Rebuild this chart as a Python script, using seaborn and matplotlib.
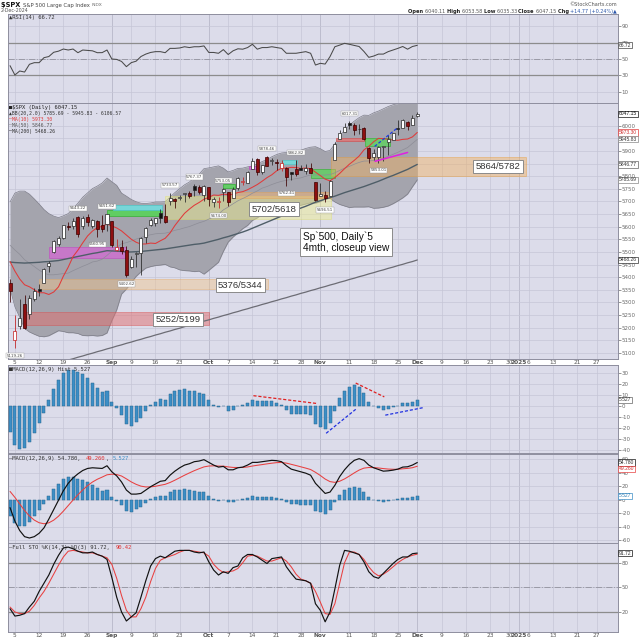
import numpy as np
import pandas as pd
import matplotlib
matplotlib.use("Agg")
import matplotlib.pyplot as plt
import seaborn as sns

sns.set_theme(style="white")
plt.rcParams["font.family"] = ["DejaVu Sans"]
plt.rcParams["axes.unicode_minus"] = False

# ---------------- data ----------------
holidays = ["2024-09-02", "2024-11-28", "2024-12-25", "2025-01-01", "2025-01-20"]
trading_days = pd.bdate_range("2024-08-02", "2025-01-31")
trading_days = trading_days[~trading_days.isin(pd.to_datetime(holidays))]

label_dates = ["2024-08-05", "2024-08-12", "2024-08-19", "2024-08-26", "2024-09-03", "2024-09-09",
               "2024-09-16", "2024-09-23", "2024-10-01", "2024-10-07", "2024-10-14", "2024-10-21",
               "2024-10-28", "2024-11-01", "2024-11-11", "2024-11-18", "2024-11-25", "2024-12-02",
               "2024-12-09", "2024-12-16", "2024-12-23", "2024-12-30", "2025-01-02", "2025-01-06",
               "2025-01-13", "2025-01-21", "2025-01-27"]
label_texts = ["5", "12", "19", "26", "Sep", "9", "16", "23", "Oct", "7", "14", "21", "28", "Nov",
               "11", "18", "25", "Dec", "9", "16", "23", "30", "2025", "6", "13", "21", "27"]
month_texts = ["Sep", "Oct", "Nov", "Dec", "2025"]

prior_close = 5446.68
opens = [5376.6, 5151.1, 5206.4, 5293.1, 5252.6, 5314.3, 5351.9, 5376.0, 5442.8, 5501.1,
         5530.5, 5557.2, 5602.9, 5603.1, 5637.8, 5602.0, 5639.7, 5602.9, 5624.5, 5607.3,
         5612.7, 5623.9, 5506.7, 5520.1, 5507.3, 5442.1, 5490.5, 5496.4, 5557.5, 5605.2,
         5615.2, 5655.5, 5641.7, 5702.6, 5709.0, 5711.9, 5727.6, 5733.6, 5762.2, 5755.4,
         5726.5, 5757.7, 5698.9, 5698.2, 5737.4, 5737.8, 5714.6, 5751.8, 5778.4, 5775.1,
         5829.8, 5866.7, 5816.6, 5875.6, 5859.4, 5857.8, 5832.7, 5834.5, 5816.6, 5826.8,
         5833.9, 5819.7, 5832.7, 5775.3, 5723.2, 5725.2, 5722.4, 5864.9, 5947.4, 5976.8,
         6008.9, 6003.6, 5985.8, 5989.6, 5912.8, 5874.2, 5874.2, 5917.0, 5934.3, 5944.4,
         5992.3, 5992.3, 6014.1, 6003.98, 6040.11]
highs = [5394.7, 5250.9, 5312.3, 5330.6, 5328.0, 5358.3, 5371.2, 5436.5, 5463.2, 5546.2,
         5561.9, 5608.3, 5620.5, 5632.7, 5643.2, 5641.8, 5651.6, 5631.2, 5627.0, 5646.9,
         5651.4, 5623.9, 5552.9, 5546.3, 5522.5, 5484.2, 5497.9, 5560.4, 5600.7, 5636.3,
         5636.1, 5670.8, 5689.8, 5733.6, 5715.1, 5725.4, 5735.3, 5741.0, 5767.4, 5764.8,
         5765.1, 5757.7, 5719.1, 5718.8, 5753.0, 5739.3, 5757.6, 5796.8, 5795.0, 5822.1,
         5871.4, 5870.4, 5846.4, 5878.5, 5872.2, 5866.9, 5863.0, 5834.9, 5817.4, 5862.8,
         5842.9, 5847.1, 5850.9, 5775.3, 5772.0, 5741.4, 5783.4, 5936.1, 5983.8, 6012.5,
         6017.3, 6009.9, 6008.2, 5993.9, 5915.3, 5909.4, 5920.9, 5920.7, 5963.8, 5972.9,
         6020.8, 6025.4, 6020.2, 6044.2, 6053.58]
lows = [5302.6, 5119.3, 5193.6, 5195.5, 5233.9, 5306.4, 5324.4, 5376.0, 5419.6, 5497.6,
        5525.2, 5550.7, 5585.5, 5591.6, 5560.9, 5590.7, 5602.3, 5593.5, 5561.0, 5577.5,
        5581.3, 5521.1, 5503.7, 5490.3, 5402.6, 5434.5, 5441.7, 5407.0, 5535.5, 5601.6,
        5604.5, 5614.1, 5615.1, 5686.4, 5674.5, 5704.2, 5698.0, 5715.2, 5721.0, 5730.1,
        5703.5, 5681.3, 5678.4, 5674.0, 5702.4, 5683.8, 5714.6, 5745.0, 5764.8, 5775.1,
        5829.8, 5804.5, 5808.3, 5840.3, 5846.1, 5824.8, 5820.0, 5762.4, 5784.9, 5799.0,
        5823.1, 5807.6, 5811.3, 5703.6, 5723.2, 5696.5, 5722.1, 5864.9, 5947.4, 5976.8,
        5986.7, 5963.9, 5965.4, 5942.3, 5853.6, 5865.6, 5853.0, 5860.5, 5884.4, 5944.4,
        5963.9, 5992.3, 5984.9, 6003.98, 6035.33]
closes = [5346.56, 5186.33, 5240.03, 5199.50, 5319.31, 5344.16, 5344.39, 5434.43, 5455.21, 5543.22,
          5554.25, 5608.25, 5597.12, 5620.85, 5570.64, 5634.61, 5616.84, 5625.80, 5592.18, 5591.96,
          5648.40, 5528.93, 5520.07, 5503.41, 5408.42, 5471.05, 5495.52, 5554.13, 5595.76, 5626.02,
          5633.09, 5634.58, 5618.26, 5713.64, 5702.55, 5718.57, 5732.93, 5722.26, 5745.37, 5738.17,
          5762.48, 5708.75, 5709.54, 5699.94, 5751.07, 5695.94, 5751.13, 5792.04, 5780.05, 5815.03,
          5859.85, 5815.26, 5842.47, 5841.47, 5864.67, 5853.98, 5851.20, 5797.42, 5809.86, 5808.12,
          5823.52, 5832.92, 5813.67, 5705.45, 5728.80, 5712.69, 5782.76, 5929.04, 5973.10, 5995.54,
          6001.35, 5983.99, 5985.38, 5949.17, 5870.62, 5893.62, 5916.98, 5917.11, 5948.71, 5969.34,
          5987.37, 6021.63, 5998.74, 6032.38, 6047.15]

bb_upper = [5698, 5733, 5741, 5741, 5729, 5710, 5690, 5668, 5652, 5642,
            5636, 5643, 5652, 5672, 5693, 5717, 5734, 5751, 5761, 5773,
            5793, 5778, 5764, 5733, 5721, 5708, 5699, 5693, 5692, 5694,
            5698, 5698, 5699, 5717, 5735, 5751, 5766, 5777, 5794, 5808,
            5830, 5833, 5837, 5841, 5832, 5817, 5823, 5831, 5832, 5837,
            5841, 5849, 5858, 5866, 5877, 5886, 5892, 5894, 5896, 5898,
            5903, 5910, 5915, 5917, 5909, 5898, 5902, 5928, 5958, 5982,
            6002, 6018, 6032, 6042, 6041, 6051, 6058, 6067, 6076, 6083,
            6088, 6094, 6099, 6102, 6106.57]
bb_lower = [5356, 5283, 5241, 5197, 5183, 5174, 5166, 5164, 5168, 5178,
            5188, 5185, 5180, 5180, 5177, 5169, 5168, 5169, 5167, 5169,
            5179, 5228, 5270, 5333, 5353, 5378, 5403, 5421, 5436, 5442,
            5446, 5448, 5451, 5441, 5437, 5429, 5426, 5425, 5422, 5424,
            5412, 5427, 5443, 5459, 5502, 5539, 5559, 5575, 5592, 5605,
            5625, 5635, 5648, 5652, 5657, 5662, 5668, 5674, 5678, 5682,
            5685, 5690, 5695, 5693, 5699, 5712, 5712, 5698, 5688, 5682,
            5676, 5678, 5678, 5678, 5679, 5673, 5674, 5677, 5682, 5691,
            5702, 5714, 5729, 5758, 5785.69]
ma20 = [5527.0, 5507.6, 5490.8, 5469.0, 5455.8, 5442.2, 5427.9, 5416.2, 5409.6, 5409.5,
        5411.9, 5414.1, 5416.2, 5425.9, 5434.5, 5443.3, 5450.9, 5460.4, 5463.9, 5471.2,
        5486.2, 5503.4, 5517.4, 5532.5, 5537.0, 5543.3, 5550.9, 5556.9, 5564.0, 5568.1,
        5572.0, 5573.4, 5574.5, 5579.1, 5585.7, 5589.9, 5595.7, 5600.5, 5608.2, 5615.5,
        5621.2, 5630.2, 5639.7, 5649.5, 5666.7, 5677.9, 5690.7, 5702.6, 5711.8, 5721.2,
        5732.6, 5741.6, 5752.8, 5759.1, 5767.2, 5774.0, 5779.9, 5783.6, 5786.9, 5790.4,
        5793.5, 5799.7, 5804.9, 5805.1, 5804.0, 5804.9, 5806.5, 5813.3, 5823.0, 5832.0,
        5839.0, 5847.5, 5854.7, 5860.0, 5860.4, 5862.4, 5865.7, 5871.7, 5878.6, 5886.7,
        5894.8, 5904.3, 5913.5, 5929.9, 5945.83]
ma10 = [5462.1, 5424.3, 5392.7, 5370.0, 5362.0, 5350.5, 5338.5, 5338.3, 5331.6, 5341.2,
        5361.9, 5404.1, 5439.8, 5481.9, 5507.1, 5536.2, 5563.5, 5582.7, 5596.4, 5601.3,
        5610.7, 5602.8, 5595.1, 5583.3, 5567.0, 5550.6, 5538.5, 5531.3, 5531.7, 5535.1,
        5533.6, 5544.2, 5554.0, 5575.1, 5604.6, 5629.4, 5653.1, 5669.9, 5684.8, 5696.0,
        5708.9, 5716.3, 5725.5, 5724.1, 5728.9, 5726.6, 5728.4, 5735.4, 5738.9, 5746.6,
        5756.4, 5767.0, 5780.2, 5794.3, 5805.7, 5821.5, 5831.5, 5832.0, 5835.0, 5834.3,
        5830.7, 5832.5, 5829.7, 5816.1, 5802.5, 5788.4, 5781.6, 5794.8, 5811.1, 5829.9,
        5847.6, 5862.7, 5879.8, 5904.2, 5918.4, 5936.5, 5949.9, 5948.7, 5946.3, 5943.6,
        5942.2, 5946.0, 5947.4, 5955.7, 5973.3]
ma50 = [5460, 5458, 5457, 5456, 5457, 5458, 5459, 5461, 5462, 5464,
        5466, 5470, 5474, 5478, 5482, 5486, 5490, 5494, 5497, 5501,
        5505, 5504, 5503, 5502, 5500, 5500, 5501, 5502, 5504, 5506,
        5508, 5510, 5512, 5515, 5518, 5521, 5524, 5527, 5530, 5532,
        5535, 5540, 5545, 5550, 5556, 5561, 5567, 5573, 5579, 5586,
        5594, 5602, 5610, 5618, 5626, 5634, 5642, 5650, 5658, 5666,
        5674, 5681, 5689, 5697, 5703, 5709, 5715, 5721, 5728, 5735,
        5741, 5747, 5753, 5759, 5766, 5773, 5780, 5788, 5796, 5803,
        5811, 5819, 5827, 5837, 5846.77]
ma200 = [5005, 5011, 5016, 5022, 5027, 5033, 5038, 5044, 5050, 5055,
         5061, 5066, 5072, 5077, 5083, 5088, 5094, 5099, 5105, 5110,
         5116, 5121, 5127, 5132, 5138, 5143, 5149, 5154, 5160, 5165,
         5171, 5176, 5182, 5187, 5193, 5198, 5204, 5209, 5215, 5220,
         5226, 5231, 5237, 5242, 5248, 5253, 5259, 5264, 5270, 5275,
         5281, 5286, 5292, 5297, 5303, 5308, 5314, 5319, 5325, 5330,
         5336, 5341, 5347, 5352, 5358, 5363, 5369, 5374, 5380, 5385,
         5391, 5396, 5402, 5407, 5413, 5418, 5424, 5429, 5435, 5440,
         5446, 5451, 5457, 5462, 5468.26]

rsi = [41.8, 30.4, 35.3, 34.0, 43.5, 45.5, 45.5, 51.6, 53.0, 58.2,
       59.6, 62.2, 61.0, 62.2, 57.7, 61.0, 60.5, 60.0, 57.7, 57.8,
       61.0, 50.0, 49.5, 47.0, 40.6, 45.5, 47.3, 53.0, 56.0, 58.0,
       59.0, 59.0, 57.7, 63.0, 63.0, 63.5, 65.0, 64.0, 65.0, 65.0,
       66.0, 58.0, 58.0, 57.0, 61.5, 55.5, 60.0, 62.5, 62.0, 64.0,
       68.0, 62.0, 64.0, 64.0, 65.0, 64.0, 63.0, 57.0, 57.0, 57.0,
       58.0, 59.0, 57.0, 42.6, 44.7, 43.8, 52.9, 65.0, 67.0, 69.2,
       68.0, 66.6, 65.3, 59.2, 52.0, 53.6, 56.0, 56.0, 59.0, 61.0,
       63.0, 65.3, 62.0, 65.3, 66.72]
macd = [-12, -32, -46, -55, -57, -55, -50, -42, -29, -15,
        -1, 13, 24, 32, 38, 43, 46, 47, 46.5, 46,
        50, 41, 35, 26, 14, 8, 8, 9, 14, 19,
        23, 27, 28, 36, 42, 47, 51, 53, 56, 57,
        59, 55, 51, 48, 49, 44, 44, 47, 48, 51,
        55, 55, 56, 57, 58, 57.5, 56, 50, 45, 43,
        41, 39, 36, 24, 16.5, 9, 11, 21, 34, 44,
        52, 58, 60.5, 58, 51, 47, 44.5, 42, 42.5, 43.5,
        45, 48, 48.5, 51, 54.78]
signal = [12, 3.2, -6.6, -16.3, -24.4, -30.5, -34.4, -35.9, -34.5, -30.6,
          -24.7, -17.2, -9, -0.8, 7, 14.2, 20.6, 25.9, 30, 33.2,
          36.6, 37.5, 37, 34.8, 30.6, 26.1, 22.5, 19.8, 18.6, 18.7,
          19.6, 21.1, 22.5, 25.2, 28.6, 32.3, 36, 39.4, 42.7, 45.6,
          48.3, 49.6, 49.9, 49.5, 49.4, 48.3, 47.5, 47.4, 47.5, 48.2,
          49.6, 50.7, 51.7, 52.8, 53.8, 54.6, 54.9, 53.9, 52.1, 50.3,
          48.4, 46.5, 44.4, 40.3, 35.6, 30.3, 26.5, 25.4, 27.1, 30.5,
          34.8, 39.4, 43.6, 46.5, 47.4, 47.3, 46.7, 45.8, 45.1, 44.8,
          44.8, 45.5, 46.1, 47.1, 49.26]
hist = [-24, -35.2, -39.4, -38.7, -32.6, -24.5, -15.6, -6.1, 5.5, 15.6,
        23.7, 30.2, 33, 32.8, 31, 28.8, 25.4, 21.1, 16.5, 12.8,
        13.4, 3.5, -2, -8.8, -16.6, -18.1, -14.5, -10.8, -4.6, 0.3,
        3.4, 5.9, 5.5, 10.8, 13.4, 14.7, 15, 13.6, 13.3, 11.4,
        10.7, 5.4, 1.1, -1.5, -0.4, -4.3, -3.5, -0.4, 0.5, 2.8,
        5.4, 4.3, 4.3, 4.2, 4.2, 2.9, 1.1, -3.9, -7.1, -7.3,
        -7.4, -7.5, -8.4, -16.3, -19.1, -21.3, -15.5, -4.4, 6.9, 13.5,
        17.2, 18.6, 16.9, 11.5, 3.6, -0.3, -2.2, -3.8, -2.6, -1.3,
        0.2, 2.5, 2.4, 3.9, 5.527]
stoch_k = [24, 15, 16, 18, 26, 33, 45, 55, 65, 78,
           89, 98, 99, 97, 94, 92, 92, 93, 90, 88,
           84, 62, 38, 20, 9, 14, 19, 38, 58, 76,
           85, 88, 86, 90, 94, 95, 95, 95, 93, 92,
           93, 81, 71, 65, 69, 67, 74, 76, 86, 90,
           90, 87, 83, 79, 85, 86, 87, 75, 67, 60,
           59, 58, 55, 30, 22, 8, 20, 48, 77, 95,
           94, 92, 90, 81, 69, 63, 61, 67, 73, 79,
           84, 87, 87, 91, 91.72]
stoch_d = [26, 20, 18, 18, 21, 28, 37, 45, 55, 66,
           77, 87, 94, 95, 94, 93, 92, 92, 90, 88,
           86, 78, 61, 40, 22, 14, 14, 24, 38, 57,
           73, 83, 86, 88, 90, 93, 95, 95, 94, 93,
           92, 88, 78, 72, 68, 69, 70, 73, 80, 88,
           89, 88, 85, 82, 82, 84, 86, 82, 75, 66,
           60, 58, 55, 45, 32, 18, 17, 30, 55, 80,
           93, 93, 90, 84, 75, 68, 64, 66, 70, 75,
           80, 84, 87, 89, 90.42]

# chartist annotations: (from day, to day, low, high, face, edge, alpha)
zones = [
    (3.1, 41.1, 5209, 5261, "#e06d6d", "#d84c4c", 0.50),
    (6.0, 53.2, 5355, 5393, "#f2c48a", "#e9a75a", 0.45),
    (8.0, 24.0, 5475, 5519, "#d36ad3", "#c050c0", 0.75),
    (32.0, 66.2, 5632, 5720, "#f0f08a", "#dede6a", 0.45),
    (45.0, 66.2, 5714, 5737, "#f0b070", "#e8a050", 0.50),
    (20.0, 31.3, 5643, 5666, "#4fd84f", "#30b030", 0.80),
    (21.2, 31.3, 5666, 5686, "#6fe0e0", "#50c8c8", 0.85),
    (44.0, 46.3, 5753, 5771, "#55d855", "#30b030", 0.80),
    (49.2, 50.9, 5830, 5840, "#e060e0", "#c040c0", 0.80),
    (56.2, 59.1, 5847, 5866, "#6fe0e0", "#50c8c8", 0.85),
    (62.0, 67.1, 5791, 5830, "#55d855", "#30b030", 0.70),
    (66.2, 106.4, 5800, 5877, "#f0b060", "#e89a30", 0.45),
    (67.3, 73.2, 5939, 5952, "#e87070", "#d05050", 0.75),
    (73.2, 78.3, 5918, 5952, "#55d855", "#30b030", 0.70),
]
zone_labels = [(34.7, 5232, "5252/5199"), (47.5, 5369, "5376/5344"),
               (54.5, 5669, "5702/5618"), (100.7, 5838, "5864/5782")]
note_text = "Sp`500, Daily`5\n4mth, closeup view"
price_tags = [(1, 5119.26, "5119.26", -1), (14, 5643.22, "5643.22", 1), (18, 5560.95, "5560.95", -1),
              (20, 5651.62, "5651.62", 1), (24, 5402.62, "5402.62", -1), (33, 5733.57, "5733.57", 1),
              (38, 5767.37, "5767.37", 1), (43, 5674.00, "5674.00", -1), (44, 5753.05, "5753.05", 1),
              (53, 5878.46, "5878.46", 1), (57, 5762.41, "5762.41", -1), (59, 5862.82, "5862.82", 1),
              (65, 5696.51, "5696.51", -1), (70, 6017.31, "6017.31", 1), (76, 5853.01, "5853.01", -1)]

# ---------------- figure ----------------
W_PX, H_PX = 640, 640
fig = plt.figure(figsize=(6.4, 6.4), dpi=100)
fig.patch.set_facecolor("white")
LEFT, RIGHT = 8, 617.5


def panel(top, bottom):
    return fig.add_axes([LEFT / W_PX, 1 - bottom / H_PX, (RIGHT - LEFT) / W_PX, (bottom - top) / H_PX])


ax_r = panel(14, 103)
ax_p = panel(103, 359)
ax_h = panel(365, 453)
ax_m = panel(454, 543)
ax_s = panel(543, 632)
axes = [ax_r, ax_p, ax_h, ax_m, ax_s]

BG = "#dcdcea"
GRID = "#c6c6d6"
x = np.arange(len(closes))
tick_pos = [trading_days.get_loc(pd.Timestamp(d)) for d in label_dates]
month_pos = [p for p, t in zip(tick_pos, label_texts) if t in month_texts]

for ax in axes:
    ax.set_facecolor(BG)
    ax.set_xlim(-0.42, 125.3)
    for s in ax.spines.values():
        s.set_color("#8e8e9e")
        s.set_linewidth(0.7)
    ax.yaxis.tick_right()
    ax.tick_params(axis="y", labelsize=4.0, colors="#6a6a6a", length=2, width=0.5, pad=1.0, right=True)
    ax.set_xticks(tick_pos)
    ax.tick_params(axis="x", length=0, labelsize=4.2, colors="#555555", pad=1.0)
    ax.grid(True, color=GRID, lw=0.5)
    ax.set_axisbelow(True)
    for p in month_pos:
        ax.axvline(p, color="#a9a9bb", lw=0.7, zorder=0.5)

for ax in [ax_r, ax_h, ax_m]:
    ax.set_xticklabels([])
for ax in [ax_p, ax_s]:
    ax.set_xticklabels(label_texts)
    for lab in ax.get_xticklabels():
        if lab.get_text() in month_texts:
            lab.set_fontweight("bold")


def line(ax, y, color, lw, z=3, ls="-"):
    sns.lineplot(x=x, y=y, ax=ax, color=color, linewidth=lw, zorder=z, linestyle=ls,
                 estimator=None, errorbar=None, legend=False)
    ax.set_xlabel("")
    ax.set_ylabel("")


def vbox(ax, val, txt, ec, tc="#333333"):
    ax.text(1.0025, val, txt, transform=ax.get_yaxis_transform(), fontsize=3.6,
            family="Liberation Sans", color=tc, va="center", ha="left", zorder=20, clip_on=False,
            bbox=dict(boxstyle="square,pad=0.12", fc="white", ec=ec, lw=0.5))


MONO = "DejaVu Sans Mono"


def mono_label(x_px, y_px, parts, size=4.0):
    cw = 0.602 * size * 100 / 72
    cx = x_px
    for txt, col in parts:
        fig.text(cx / W_PX, 1 - y_px / H_PX, txt, fontsize=size, family=MONO, color=col,
                 va="center", ha="left", zorder=30)
        cx += len(txt) * cw


# ---------------- RSI ----------------
ax_r.set_ylim(-3.9, 105.1)
ax_r.set_yticks([10, 30, 50, 70, 90])
ax_r.axhline(70, color="#8c8c8c", lw=0.9, zorder=1)
ax_r.axhline(30, color="#8c8c8c", lw=0.9, zorder=1)
ax_r.axhline(50, color="#9a9aa6", lw=0.7, ls="-.", zorder=1)
line(ax_r, rsi, "#4a4a4a", 0.75)
vbox(ax_r, rsi[-1], f"{rsi[-1]:.2f}", "#444444")
mono_label(9, 17.5, [("\u25b2RSI(14) 66.72", "#333333")])

# ---------------- price ----------------
ax_p.set_ylim(5076, 6090)
ax_p.set_yticks(np.arange(5100, 6001, 50))
ax_p.set_yticklabels([str(v) for v in np.arange(5100, 6001, 50)])
ax_p.fill_between(x, bb_lower, bb_upper, color="#a4a4ad", lw=0, zorder=1)
line(ax_p, bb_upper, "#7d7d88", 0.5, z=1.5)
line(ax_p, bb_lower, "#7d7d88", 0.5, z=1.5)
line(ax_p, ma20, "#8d8d97", 0.5, z=3)
line(ax_p, ma200, "#6c6c74", 0.9, z=3)
line(ax_p, ma50, "#4f5e68", 1.0, z=3)
line(ax_p, ma10, "#e03a3a", 0.75, z=3)

for (x0, x1, lo, hi, fc, ec, al) in zones:
    ax_p.bar((x0 + x1) / 2, hi - lo, bottom=lo, width=x1 - x0, color=fc, alpha=al,
             edgecolor=ec, linewidth=0.6, zorder=2.5)

# candles
prev = [prior_close] + closes[:-1]
for i in range(len(closes)):
    o, h, l, c = opens[i], highs[i], lows[i], closes[i]
    down = c < prev[i]
    hollow = c >= o
    if down:
        ec = "#c21d1d" if hollow else "#3d0000"
        fc = "white" if hollow else "#8e0f10"
    else:
        ec = "#262626"
        fc = "white" if hollow else "#111111"
    ax_p.vlines(x[i], l, h, color=ec, lw=0.55, zorder=4)
    ax_p.bar(x[i], max(abs(c - o), 1.5), bottom=min(o, c), width=0.62, color=fc,
             edgecolor=ec, linewidth=0.5, zorder=5)

# divergence / trend marks
ax_p.plot([75.2, 80.0], [5918, 5993], color="#1f3be0", lw=0.9, ls=(0, (2.5, 1.5)), zorder=6)
ax_p.plot([75.3, 82.0], [5859, 5894], color="#e020e0", lw=1.1, zorder=6)

for (xc, yc, t) in zone_labels:
    ax_p.text(xc, yc, t, fontsize=6.8, family="Liberation Sans", color="#333333", ha="center",
              va="center", zorder=8, bbox=dict(boxstyle="square,pad=0.25", fc="white", ec="#8a8a8a", lw=0.7))
ax_p.text(60.4, 5538, note_text, fontsize=7.3, family="Liberation Sans", color="#111111", ha="left",
          va="center", linespacing=1.15, zorder=8,
          bbox=dict(boxstyle="square,pad=0.3", fc="white", ec="#8a8a8a", lw=0.7))
for (xi, val, t, d) in price_tags:
    ax_p.annotate(t, (xi, val), xytext=(0, 4.0 * d), textcoords="offset points", fontsize=2.9,
                  color="#444444", ha="center", va="bottom" if d > 0 else "top", zorder=9,
                  bbox=dict(boxstyle="square,pad=0.15", fc="white", ec="#999999", lw=0.3))

vbox(ax_p, closes[-1], f"{closes[-1]:.2f}", "#111111", "#111111")
vbox(ax_p, ma10[-1], f"{ma10[-1]:.2f}", "#e03a3a", "#d03030")
vbox(ax_p, ma20[-1], f"{ma20[-1]:.2f}", "#888888")
vbox(ax_p, ma50[-1], f"{ma50[-1]:.2f}", "#666666")
vbox(ax_p, bb_lower[-1], f"{bb_lower[-1]:.2f}", "#888888")
vbox(ax_p, ma200[-1], f"{ma200[-1]:.2f}", "#333333")

mono_label(9, 107, [("\u25a0$SPX (Daily) 6047.15", "#222222")], size=3.9)
mono_label(9, 113, [("\u25b2BB(20,2.0) 5785.69 - 5945.83 - 6106.57", "#333333")], size=3.4)
mono_label(9, 119, [("\u2014", "#e03a3a"), ("MA(10) 5973.30", "#e03a3a")], size=3.4)
mono_label(9, 125, [("\u2014", "#777777"), ("MA(50) 5846.77", "#555555")], size=3.4)
mono_label(9, 131, [("\u2014", "#111111"), ("MA(200) 5468.26", "#333333")], size=3.4)

# ---------------- MACD histogram ----------------
ax_h.set_ylim(-42.9, 37.1)
ax_h.set_yticks(np.arange(-40, 31, 10))
ax_h.bar(x, hist, width=0.62, color="#3c8ec6", edgecolor="#29688f", linewidth=0.35, zorder=3)
ax_h.plot([50.2, 63.5], [9.2, 2.0], color="#e02020", lw=0.9, ls=(0, (2.5, 1.5)), zorder=6)
ax_h.plot([65.2, 71.3], [-25, -3.2], color="#2030e0", lw=0.9, ls=(0, (2.5, 1.5)), zorder=6)
ax_h.plot([71.3, 77.2], [20.7, 8.1], color="#e02020", lw=0.9, ls=(0, (2.5, 1.5)), zorder=6)
ax_h.plot([77.4, 85.4], [-8.5, -1.5], color="#2030e0", lw=0.9, ls=(0, (2.5, 1.5)), zorder=6)
vbox(ax_h, hist[-1], "5.527", "#666666")
mono_label(9, 369, [("\u25a0MACD(12,26,9) Hist 5.527", "#333333")])

# ---------------- MACD ----------------
ax_m.set_ylim(-64.4, 67.4)
ax_m.set_yticks(np.arange(-60, 61, 20))
ax_m.bar(x, hist, width=0.62, color="#3c8ec6", edgecolor="#29688f", linewidth=0.35, zorder=2)
line(ax_m, signal, "#e84040", 0.75)
line(ax_m, macd, "#111111", 0.85)
vbox(ax_m, macd[-1], "54.780", "#111111")
vbox(ax_m, signal[-1] - 4, "49.260", "#e84040", "#d03030")
vbox(ax_m, hist[-1], "5.527", "#3c8ec6", "#2f7db3")
mono_label(9, 458.5, [("\u2014MACD(12,26,9) 54.780, ", "#333333"), ("49.260", "#e03030"),
                      (", ", "#333333"), ("5.527", "#3c8ec6")])

# ---------------- Full stochastics ----------------
ax_s.set_ylim(-4.4, 104)
ax_s.set_yticks([20, 50, 80])
ax_s.axhline(80, color="#8c8c8c", lw=0.9, zorder=1)
ax_s.axhline(20, color="#8c8c8c", lw=0.9, zorder=1)
ax_s.axhline(50, color="#9a9aa6", lw=0.7, ls="-.", zorder=1)
line(ax_s, stoch_d, "#e84040", 0.75)
line(ax_s, stoch_k, "#111111", 0.85)
vbox(ax_s, stoch_k[-1], "91.72", "#111111")
mono_label(9, 547.5, [("\u2014Full STO %K(14,3) %D(3) 91.72, ", "#333333"), ("90.42", "#e03030")])

# ---------------- header ----------------
renderer = fig.canvas.get_renderer()


def run_text(x_px, y_px, parts, align="left"):
    objs = []
    for txt, size, weight, col in parts:
        t = fig.text(0, 1 - y_px / H_PX, txt, fontsize=size, fontweight=weight, color=col,
                     va="center", ha="left")
        objs.append(t)
    widths = [o.get_window_extent(renderer).width for o in objs]
    total = sum(widths)
    cx = x_px - total if align == "right" else x_px
    for o, w in zip(objs, widths):
        o.set_x(cx / W_PX)
        cx += w


run_text(1, 5, [("$SPX ", 4.8, "bold", "#111111"), ("S&P 500 Large Cap Index ", 3.8, "normal", "#444444"),
                ("INDX", 3.2, "normal", "#666666")])
run_text(1, 11, [("2-Dec-2024", 3.4, "normal", "#555555")])
run_text(617, 4.5, [("\u00a9StockCharts.com", 3.6, "normal", "#555555")], align="right")
run_text(617, 11.2, [("Open ", 3.7, "bold", "#222222"), ("6040.11 ", 3.5, "normal", "#555555"),
                     ("High ", 3.7, "bold", "#222222"), ("6053.58 ", 3.5, "normal", "#555555"),
                     ("Low ", 3.7, "bold", "#222222"), ("6035.33 ", 3.5, "normal", "#555555"),
                     ("Close ", 3.7, "bold", "#222222"), ("6047.15 ", 3.5, "normal", "#555555"),
                     ("Chg ", 3.7, "bold", "#222222"), ("+14.77 (+0.24%)\u25b2", 3.5, "normal", "#2a55aa")],
         align="right")

fig.savefig("out.png", dpi=100, facecolor="white")
